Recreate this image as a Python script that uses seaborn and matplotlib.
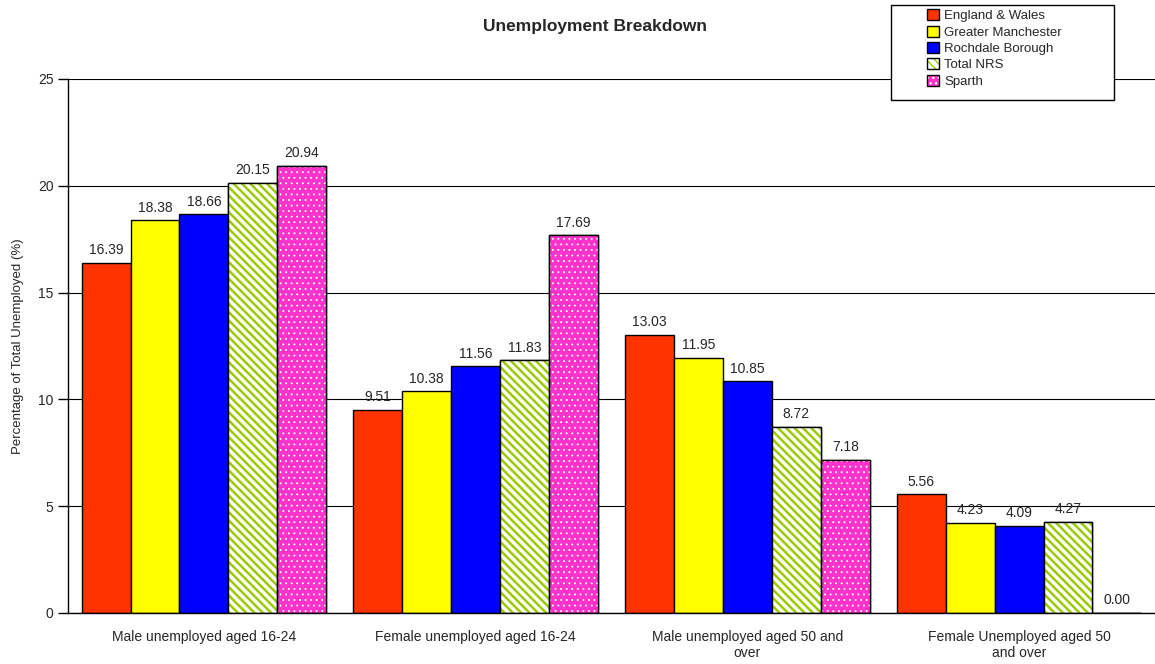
import pandas as pd
import matplotlib as mpl
import matplotlib.pyplot as plt
import seaborn as sns
from matplotlib.patches import Rectangle, Patch

sns.set_style("white")
plt.rcParams['font.family'] = ['Liberation Sans', 'DejaVu Sans']

# Dados
categories = ['Male unemployed aged 16-24', 'Female unemployed aged 16-24',
              'Male unemployed aged 50 and\nover', 'Female Unemployed aged 50\nand over']
areas = ['England & Wales', 'Greater Manchester', 'Rochdale Borough', 'Total NRS', 'Sparth']
england_wales = [16.39, 9.51, 13.03, 5.56]
greater_manchester = [18.38, 10.38, 11.95, 4.23]
rochdale = [18.66, 11.56, 10.85, 4.09]
total_nrs = [20.15, 11.83, 8.72, 4.27]
sparth = [20.94, 17.69, 7.18, 0.00]

colors = {'England & Wales': '#FF3300', 'Greater Manchester': '#FFFF00',
          'Rochdale Borough': '#0000FF', 'Total NRS': 'white', 'Sparth': '#FF33CC'}

series = [england_wales, greater_manchester, rochdale, total_nrs, sparth]
rows = []
for area, vals in zip(areas, series):
    for cat, v in zip(categories, vals):
        rows.append({'category': cat, 'area': area, 'value': v})
data = pd.DataFrame(rows)

fig = plt.figure(figsize=(11.55, 6.64), dpi=100)
ax = fig.add_axes([68 / 1155, 1 - 613 / 664, 1 - 68 / 1155, (613 - 79) / 664])

sns.barplot(data=data, x='category', y='value', hue='area', hue_order=areas,
            palette=colors, saturation=1, width=0.9, edgecolor='black', linewidth=1,
            legend=False, ax=ax, zorder=2)

# Hachuras para Total NRS e Sparth (cor, cor da hachura, padrão, espessura)
hatch_style = {3: ('white', '#99CC00', '\\\\\\\\', 1.8), 4: ('#FF33CC', 'white', '...', 0.6)}


def hatched_patch(fc, hc, h, lw, **kw):
    with mpl.rc_context({'hatch.linewidth': lw}):
        return Patch(facecolor=fc, edgecolor=hc, hatch=h, linewidth=0, **kw)


for i, cont in enumerate(ax.containers):
    if i in hatch_style:
        fc, hc, h, lw = hatch_style[i]
        for bar in cont:
            with mpl.rc_context({'hatch.linewidth': lw}):
                r = Rectangle(bar.get_xy(), bar.get_width(), bar.get_height(),
                              facecolor=fc, edgecolor=hc, hatch=h, linewidth=0, zorder=2.5)
            ax.add_patch(r)
            ax.add_patch(Rectangle(bar.get_xy(), bar.get_width(), bar.get_height(),
                                   fill=False, edgecolor='black', linewidth=1, zorder=3))
    ax.bar_label(cont, fmt='%.2f', padding=4, fontsize=10)

ax.set_ylim(0, 25)
ax.set_xlim(-0.5, 3.5)
ax.set_yticks([0, 5, 10, 15, 20, 25])
ax.yaxis.grid(True, color='black', linewidth=0.8)
ax.set_axisbelow(True)
ax.set_xticks(range(4))
ax.set_xticklabels(categories, fontsize=10)
ax.set_xticks([-0.5, 0.5, 1.5, 2.5, 3.5], minor=True)
ax.tick_params(axis='x', which='major', length=0, pad=12)
ax.tick_params(axis='x', which='minor', length=6, width=1, direction='out', color='black')
ax.tick_params(axis='y', length=7, width=1, direction='out', color='black', labelsize=10, left=True)
for s in ['top', 'right']:
    ax.spines[s].set_visible(False)
for s in ['left', 'bottom']:
    ax.spines[s].set_color('black')
    ax.spines[s].set_linewidth(1)
ax.set_xlabel('')
ax.set_ylabel('Percentage of Total Unemployed (%)', fontsize=9.5, labelpad=10)

fig.text(595 / 1155, 1 - 27 / 664, 'Unemployment Breakdown', ha='center', va='center',
         fontsize=12.5, fontweight='bold')

# Legenda
handles = []
for i, area in enumerate(areas):
    if i in hatch_style:
        fc, hc, h, lw = hatch_style[i]
        handles.append((hatched_patch(fc, hc, h, lw),
                        Patch(fill=False, edgecolor='black', linewidth=1)))
    else:
        handles.append(Patch(facecolor=colors[area], edgecolor='black', linewidth=1))
fig.patches.append(Rectangle((891 / 1155, 1 - 100 / 664), 223 / 1155, 95 / 664,
                             transform=fig.transFigure, facecolor='white',
                             edgecolor='black', linewidth=1, zorder=5))
leg = fig.legend(handles, areas, loc='upper left', bbox_to_anchor=(922 / 1155, 1 - 4 / 664),
                 frameon=False, fontsize=9.5, handlelength=0.9, handleheight=0.9,
                 handletextpad=0.4, labelspacing=0.25, borderaxespad=0)
leg.set_zorder(6)

plt.savefig('out.png', dpi=100)
